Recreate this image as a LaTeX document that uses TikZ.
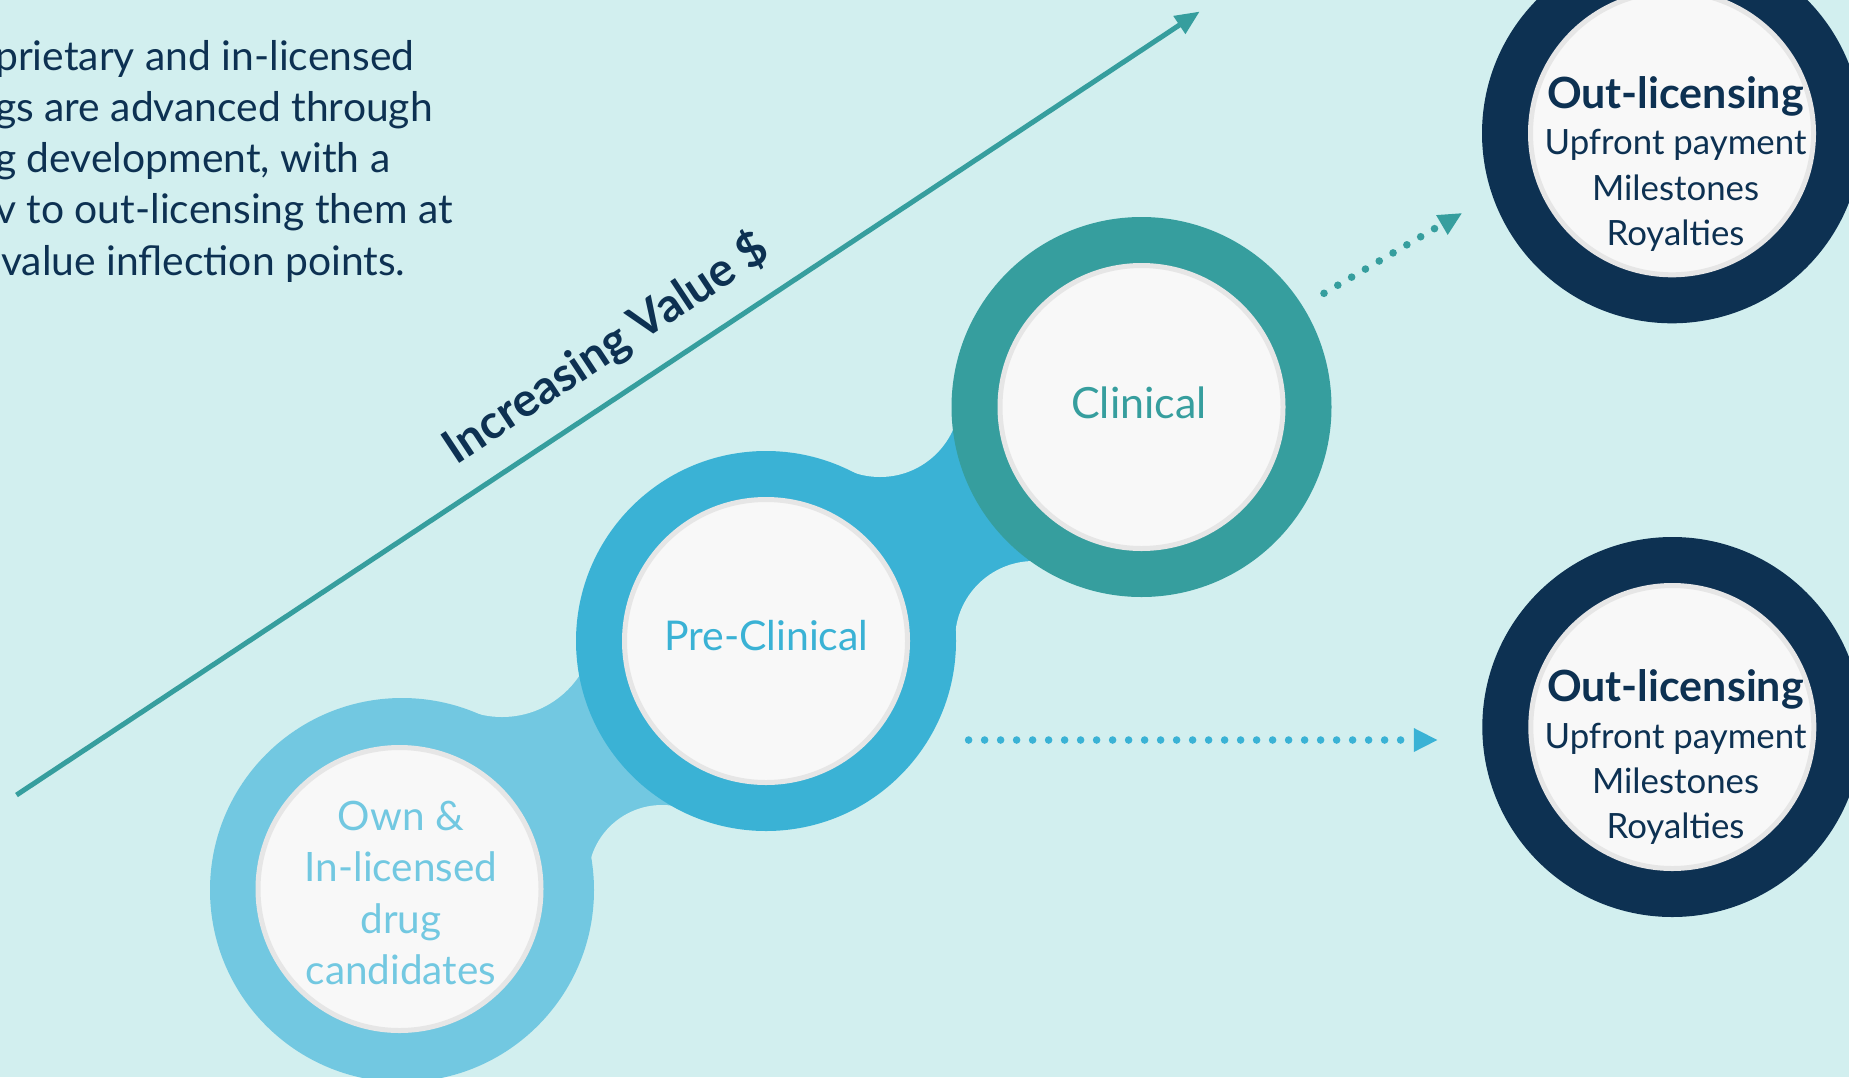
\documentclass[tikz,border=0pt]{standalone}
\usepackage{fontspec}
\setmainfont{Lato}
\definecolor{bgc}{HTML}{D2EFEF}
\definecolor{lblue}{HTML}{72C8E1}
\definecolor{mblue}{HTML}{3AB2D5}
\definecolor{tealc}{HTML}{369E9E}
\definecolor{navy}{HTML}{0D3152}
\definecolor{corew}{HTML}{F8F8F8}
\definecolor{rimc}{HTML}{E6E6E6}
\tikzset{
  ringnode/.style={circle, inner sep=0pt, outer sep=0pt, minimum size=#1},
  corenode/.style={circle, inner sep=0pt, outer sep=0pt, fill=corew, draw=rimc, line width=5pt, minimum size=283pt},
  bodytxt/.style={anchor=base west, inner sep=0pt, text=navy, font=\fontsize{40.8}{48}\selectfont},
  owntxt/.style={anchor=base, inner sep=0pt, text=lblue, font=\fontsize{40.5}{48}\selectfont},
  stagetxt/.style={anchor=base, inner sep=0pt, font=\fontsize{#1}{48}\selectfont},
  outhead/.style={anchor=base, inner sep=0pt, text=navy, font=\bfseries\fontsize{43}{50}\selectfont},
  outline/.style={anchor=base, inner sep=0pt, text=navy, font=\fontsize{34.8}{42}\selectfont},
  dotpath/.style={line width=7.6pt, line cap=round, dash pattern=on 0pt off 16pt},
}
\begin{document}
\begin{tikzpicture}[x=1pt,y=-1pt]
\useasboundingbox (0,0) rectangle (1849,1077);
\clip (0,0) rectangle (1849,1077);
\fill[bgc] (0,0) rectangle (1849,1077);

% centres
\coordinate (c1) at (402,890);
\coordinate (c1i) at (399.5,889);
\coordinate (c2) at (766,641);
\coordinate (c3) at (1141.5,407);
\coordinate (o1) at (1672,133.3);
\coordinate (o2) at (1672.3,727);
\coordinate (f1u) at (502,624);
\coordinate (f1l) at (662,879);
\coordinate (f2u) at (880,397);
\coordinate (f2l) at (1034,640);

% necks
\fill[lblue] (c1) -- (f1u) -- (c2) -- (f1l) -- cycle;
\fill[mblue] (c2) -- (f2u) -- (c3) -- (f2l) -- cycle;
\fill[bgc] (f1u) circle[radius=93pt];
\fill[bgc] (f1l) circle[radius=74pt];
\fill[bgc] (f2u) circle[radius=80pt];
\fill[bgc] (f2l) circle[radius=79pt];

% rings
\node[ringnode=384pt, fill=lblue] (ring1) at (c1) {};
\node[corenode] (core1) at (c1i) {};
\node[ringnode=380pt, fill=mblue] (ring2) at (c2) {};
\node[corenode] (core2) at (c2) {};
\node[ringnode=380pt, fill=tealc] (ring3) at (c3) {};
\node[corenode] (core3) at (c3) {};
\node[ringnode=380pt, fill=navy] (ringA) at (o1) {};
\node[corenode] (coreA) at (o1) {};
\node[ringnode=380pt, fill=navy] (ringB) at (o2) {};
\node[corenode] (coreB) at (o2) {};

% dotted arrows
\coordinate (ta) at (1324,293.3);
\coordinate (tb) at (1434.9,228.4);
\coordinate (ba) at (968.6,740);
\coordinate (bb) at (1401.5,740);
\draw[dotpath, tealc] (ta) -- (tb);
\fill[tealc] (1461.7,213.3) -- (1447.7,234.9) -- (1436.1,215.1) -- cycle;
\draw[dotpath, mblue] (ba) -- (bb);
\fill[mblue] (1437.3,740) -- (1413.8,752) -- (1413.8,728) -- cycle;

% value axis
\coordinate (l0) at (16.5,795);
\coordinate (l1) at (1181,24);
\draw[tealc, line width=5pt] (l0) -- (l1);
\fill[tealc] (1199.3,11.8) -- (1185.4,34.2) -- (1173.2,15.9) -- cycle;
\node[anchor=base, inner sep=0pt, text=navy, rotate=33.5, font=\bfseries\fontsize{47}{54}\selectfont] (val) at (614,361) {Increasing Value \$};

% intro text
\node[bodytxt] (p1) at (-5,70) {prietary and in-licensed};
\node[bodytxt] (p2) at (-5,121.3) {gs are advanced through};
\node[bodytxt] (p3) at (-5,172.5) {g development, with a};
\node[bodytxt] (p4) at (-5,223.8) {v to out-licensing them at};
\node[bodytxt] (p5) at (1,275) {value inflection points.};

% stage texts
\node[owntxt] (t11) at (401,830) {Own \&};
\node[owntxt] (t12) at (401,881.7) {In-licensed};
\node[owntxt] (t13) at (401,933) {drug};
\node[owntxt] (t14) at (401,984) {candidates};
\node[stagetxt=41, text=mblue] (t2) at (766.3,650) {Pre-Clinical};
\node[stagetxt=43, text=tealc] (t3) at (1139,418) {Clinical};

% out-licensing texts
\node[outhead] (a1) at (1675.5,108.3) {Out-licensing};
\node[outline] (a2) at (1675.5,154) {Upfront payment};
\node[outline] (a3) at (1675.5,200) {Milestones};
\node[outline] (a4) at (1675.5,245) {Royalties};
\node[outhead] (b1) at (1675.5,701.7) {Out-licensing};
\node[outline] (b2) at (1675.5,748.3) {Upfront payment};
\node[outline] (b3) at (1675.5,793.3) {Milestones};
\node[outline] (b4) at (1675.5,838.3) {Royalties};
\end{tikzpicture}
\end{document}
